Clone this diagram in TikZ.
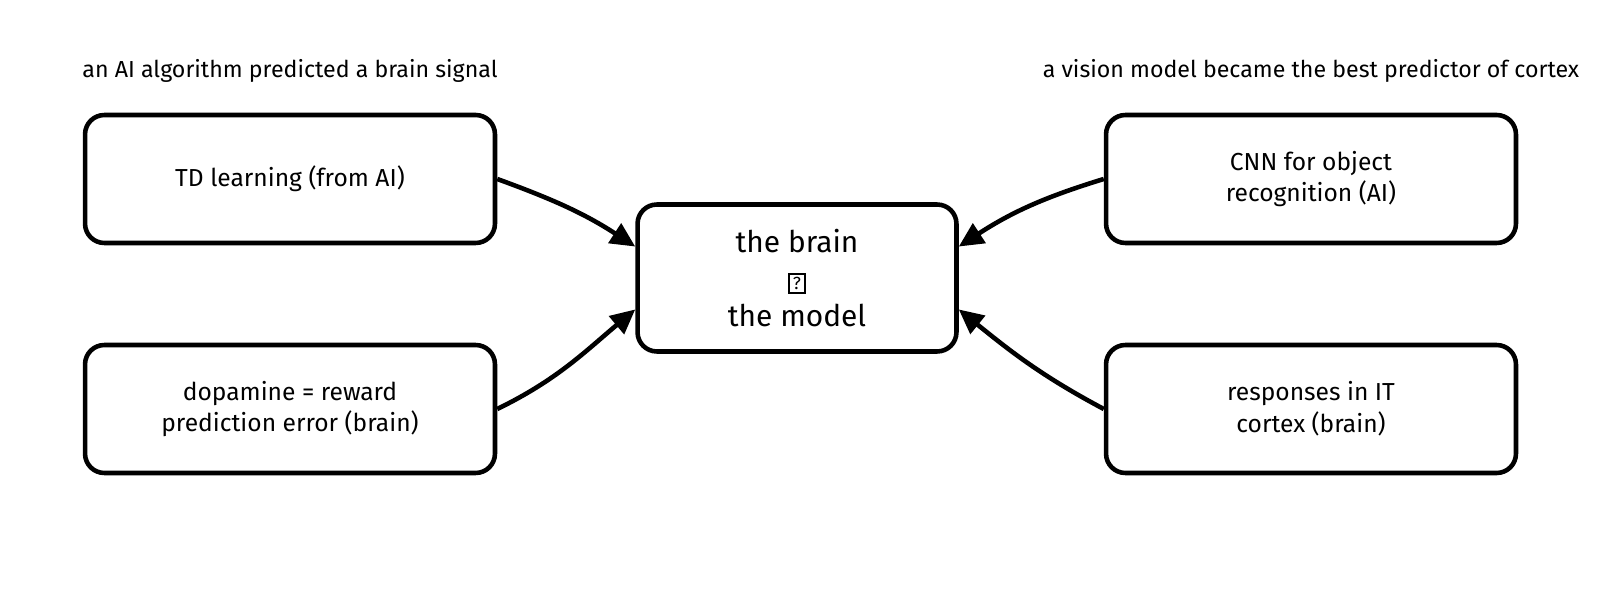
\documentclass[tikz,border=0pt]{standalone}
\usepackage{fontspec}
\setmainfont{Fira Sans}
\usetikzlibrary{arrows.meta,positioning}

% little boxed question mark between the two lines of the middle card
\newcommand{\qmark}{{\setlength{\fboxsep}{1.5pt}\setlength{\fboxrule}{1.1pt}\fbox{\fontsize{10}{11}\selectfont ?}}}

\begin{document}
\begin{tikzpicture}[x=0.02cm, y=0.02cm, >={Triangle[length=14pt,width=13pt]},
    card/.style={draw, line width=2.6pt, rounded corners=11pt, minimum width=8.2cm, minimum height=2.56cm,
        align=center, font=\fontsize{14}{18}\selectfont},
    headline/.style={font=\fontsize{13.2}{15}\selectfont, inner sep=0pt},
    link/.style={->, line width=2.6pt}]
    \useasboundingbox (0,0) rectangle (1604,602);

    % middle card
    \node[card, minimum width=6.38cm, minimum height=2.94cm, font=\fontsize{17}{21}\selectfont] (brain) at (797,324) {the brain\\ \qmark\\ the model};

    % AI side and brain side cards
    \node[card] (tdl) at (290,423) {TD learning (from AI)};
    \node[card] (dopa) at (290,193) {dopamine = reward\\ prediction error (brain)};
    \node[card] (cnn) at (1311,423) {CNN for object\\ recognition (AI)};
    \node[card] (itc) at (1311,193) {responses in IT\\ cortex (brain)};

    \node[headline, above=0.6cm of tdl] (lefthead) {an AI algorithm predicted a brain signal};
    \node[headline, above=0.6cm of cnn] (righthead) {a vision model became the best predictor of cortex};

    \draw[link] (tdl.east) to[out=-20, in=147] (brain.169);
    \draw[link] (dopa.east) to[out=26, in=220] (brain.191);
    \draw[link] (cnn.west) to[out=197, in=33] (brain.11);
    \draw[link] (itc.west) to[out=152, in=-39] (brain.-11);
\end{tikzpicture}
\end{document}
